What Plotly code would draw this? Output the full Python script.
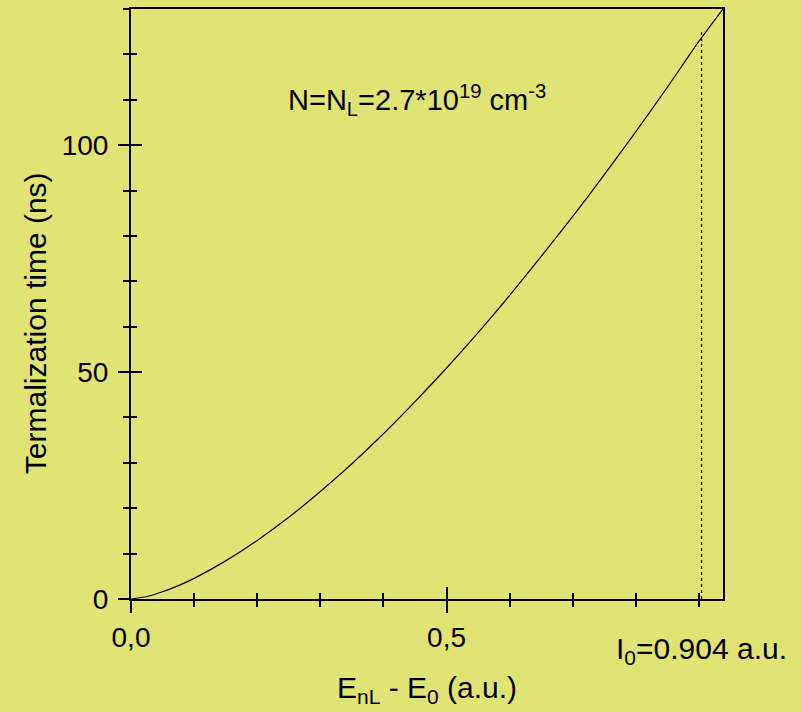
import plotly.graph_objects as go

# Termalization time versus excess energy
energy = [0.0, 0.025, 0.05, 0.075, 0.10, 0.15, 0.20, 0.25, 0.30, 0.35, 0.40,
          0.45, 0.50, 0.55, 0.60, 0.65, 0.70, 0.75, 0.80, 0.85, 0.90, 0.938]
time_ns = [0.0, 0.55, 1.6, 2.95, 4.55, 8.4, 12.9, 18.0, 23.7, 29.8, 36.4,
           43.5, 50.9, 58.7, 66.9, 75.5, 84.3, 93.5, 103.0, 112.8, 122.9, 130.0]

# Marked energy I0 and the height of its guide line
i0_x = [0.904, 0.904]
i0_y = [0.0, 125.0]

x_range = [0.0, 0.938]
y_range = [0.0, 130.0]
x_tickvals = [0.0, 0.5]
x_ticktext = ["0,0", "0,5"]
y_tickvals = [0, 50, 100]
y_ticktext = ["0", "50", "100"]

BG = "#dfe475"
FONT = "Liberation Sans, Arial, sans-serif"

fig = go.Figure()
fig.add_trace(go.Scatter(x=energy, y=time_ns, mode="lines",
                         line=dict(color="black", width=1.2, shape="spline",
                                   smoothing=0.6),
                         hoverinfo="skip"))
fig.add_trace(go.Scatter(x=i0_x, y=i0_y, mode="lines",
                         line=dict(color="black", width=1.2, dash="dot"),
                         hoverinfo="skip"))
# empty trace so the overlay axes (inner halves of ticks) get drawn
fig.add_trace(go.Scatter(x=[], y=[], xaxis="x2", yaxis="y2", mode="lines"))

axis_common = dict(showgrid=False, zeroline=False, tickcolor="black",
                   tickwidth=2)

fig.update_layout(
    width=801, height=712,
    margin=dict(l=131, r=78, t=7, b=113),
    paper_bgcolor=BG, plot_bgcolor=BG,
    showlegend=False,
    font=dict(family=FONT, size=28, color="black"),
    xaxis=dict(range=x_range, tickmode="array", tickvals=x_tickvals,
               ticktext=x_ticktext, ticks="outside", ticklen=12,
               tickfont=dict(family=FONT, size=28),
               showline=True, linecolor="black", linewidth=2, mirror=True,
               minor=dict(dtick=0.1, tick0=0, ticks="outside", ticklen=6,
                          tickwidth=2, tickcolor="black"),
               ticklabelstandoff=0,
               **axis_common),
    yaxis=dict(range=y_range, tickmode="array", tickvals=y_tickvals,
               ticktext=y_ticktext, ticks="outside", ticklen=11,
               tickfont=dict(family=FONT, size=28),
               showline=True, linecolor="black", linewidth=2, mirror=True,
               minor=dict(dtick=10, tick0=0, ticks="outside", ticklen=6,
                          tickwidth=2, tickcolor="black"),
               ticklabelstandoff=4,
               **axis_common),
    xaxis2=dict(range=x_range, overlaying="x", anchor="y2", side="bottom",
                tickmode="array", tickvals=x_tickvals, ticks="inside",
                ticklen=12, showticklabels=False, showline=False,
                minor=dict(dtick=0.1, tick0=0, ticks="inside", ticklen=6,
                           tickwidth=2, tickcolor="black"),
                **axis_common),
    yaxis2=dict(range=y_range, overlaying="y", anchor="x2", side="left",
                tickmode="array", tickvals=y_tickvals, ticks="inside",
                ticklen=11, showticklabels=False, showline=False,
                minor=dict(dtick=10, tick0=0, ticks="inside", ticklen=6,
                           tickwidth=2, tickcolor="black"),
                **axis_common),
)

fig.add_annotation(text="Termalization time (ns)", textangle=-90,
                   xref="paper", yref="paper", x=-0.160, y=0.468,
                   xanchor="center", yanchor="middle", showarrow=False,
                   font=dict(family=FONT, size=30))
fig.add_annotation(text="E<sub>nL</sub> - E<sub>0</sub> (a.u.)",
                   xref="paper", yref="paper", x=0.5, y=-0.153,
                   xanchor="center", yanchor="middle", showarrow=False,
                   font=dict(family=FONT, size=30))
fig.add_annotation(text="N=N<sub>L</sub>=2.7*10<sup>19</sup> cm<sup>-3</sup>",
                   xref="x", yref="y", x=0.453, y=110.0,
                   xanchor="center", yanchor="middle", showarrow=False,
                   font=dict(family=FONT, size=29))
fig.add_annotation(text="I<sub>0</sub>=0.904 a.u.",
                   xref="x", yref="paper", x=0.904, y=-0.088,
                   xanchor="center", yanchor="middle", showarrow=False,
                   font=dict(family=FONT, size=30))

fig.write_html("out.html")
